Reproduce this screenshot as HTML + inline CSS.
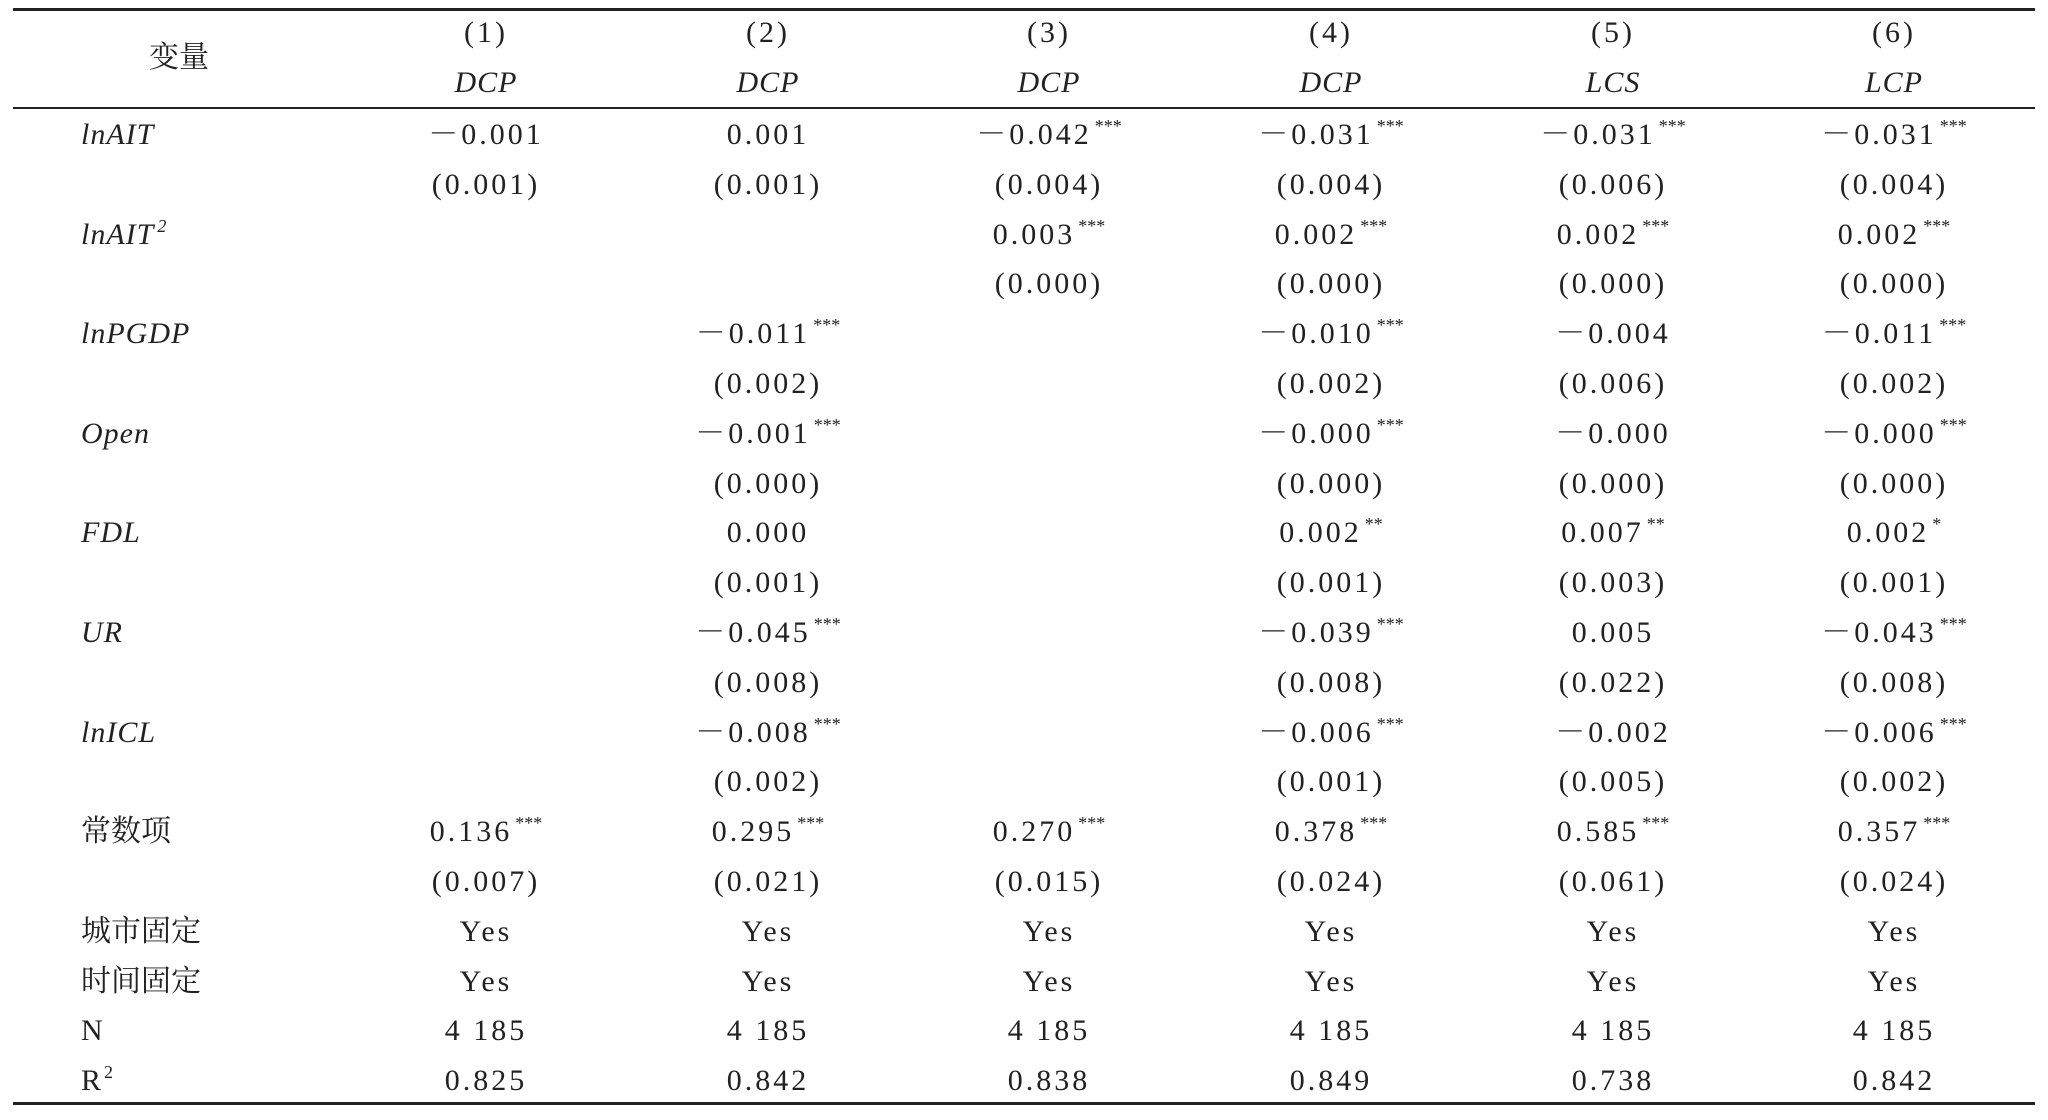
<!DOCTYPE html>
<html><head><meta charset="utf-8">
<style>
html,body{margin:0;padding:0;background:#fff;}
#t{position:relative;width:2048px;height:1120px;overflow:hidden;font-family:"Liberation Serif","Noto Serif CJK SC",serif;color:#222;}
.c{position:absolute;white-space:nowrap;font-size:30px;line-height:34px;letter-spacing:3px;transform:translate(-50%,-50%);}
.l{position:absolute;white-space:nowrap;font-size:30px;line-height:34px;transform:translateY(-50%);}
.i{font-style:italic;letter-spacing:1px;}
sup{font-size:18px;letter-spacing:0;vertical-align:12px;line-height:0;margin-left:3px;}
.rule{position:absolute;left:13px;width:2022px;background:#222;}
</style></head><body>
<div id="t">
<div class="rule" style="top:8px;height:3px"></div>
<div class="rule" style="top:107px;height:2px"></div>
<div class="rule" style="top:1102px;height:3px"></div>
<div class="c" style="left:179px;top:58px;letter-spacing:0">变量</div>
</div>
<script>
const colNums=["(1)","(2)","(3)","(4)","(5)","(6)"];
const depVars=["DCP","DCP","DCP","DCP","LCS","LCP"];
const rowLabels=["lnAIT","","lnAIT<sup>2</sup>","","lnPGDP","","Open","","FDL","","UR","","lnICL","","常数项","","城市固定","时间固定","N","R<sup>2</sup>"];
const italicRows=[1,0,1,0,1,0,1,0,1,0,1,0,1,0,0,0,0,0,0,0];
const cells=[
["－0.001","0.001","－0.042***","－0.031***","－0.031***","－0.031***"],
["(0.001)","(0.001)","(0.004)","(0.004)","(0.006)","(0.004)"],
["","","0.003***","0.002***","0.002***","0.002***"],
["","","(0.000)","(0.000)","(0.000)","(0.000)"],
["","－0.011***","","－0.010***","－0.004","－0.011***"],
["","(0.002)","","(0.002)","(0.006)","(0.002)"],
["","－0.001***","","－0.000***","－0.000","－0.000***"],
["","(0.000)","","(0.000)","(0.000)","(0.000)"],
["","0.000","","0.002**","0.007**","0.002*"],
["","(0.001)","","(0.001)","(0.003)","(0.001)"],
["","－0.045***","","－0.039***","0.005","－0.043***"],
["","(0.008)","","(0.008)","(0.022)","(0.008)"],
["","－0.008***","","－0.006***","－0.002","－0.006***"],
["","(0.002)","","(0.001)","(0.005)","(0.002)"],
["0.136***","0.295***","0.270***","0.378***","0.585***","0.357***"],
["(0.007)","(0.021)","(0.015)","(0.024)","(0.061)","(0.024)"],
["Yes","Yes","Yes","Yes","Yes","Yes"],
["Yes","Yes","Yes","Yes","Yes","Yes"],
["4 185","4 185","4 185","4 185","4 185","4 185"],
["0.825","0.842","0.838","0.849","0.738","0.842"]
];
const colX=[486,768,1049,1331,1613,1894];
const rowY0=135, rowStep=49.8, labelX=81;
const t=document.getElementById('t');
function fmt(s){return s.replace(/(\*+)$/,'<sup>$1</sup>');}
colNums.forEach((s,j)=>{
 const d=document.createElement('div');d.className='c';d.style.left=colX[j]+'px';d.style.top='33px';d.textContent=s;
 
 t.appendChild(d);
 const e=document.createElement('div');e.className='c i';e.style.left=colX[j]+'px';e.style.top='83px';e.textContent=depVars[j];
 
 t.appendChild(e);
});
rowLabels.forEach((s,r)=>{
 const y=rowY0+r*rowStep;
 if(s){const d=document.createElement('div');d.className='l'+(italicRows[r]?' i':'');d.style.left=labelX+'px';d.style.top=y+'px';d.innerHTML=s;
 
 t.appendChild(d);}
 cells[r].forEach((v,j)=>{ if(!v)return;
  const d=document.createElement('div');d.className='c';d.style.left=colX[j]+'px';d.style.top=y+'px';d.innerHTML=fmt(v);
  
  t.appendChild(d);});
});
</script>
</body></html>
